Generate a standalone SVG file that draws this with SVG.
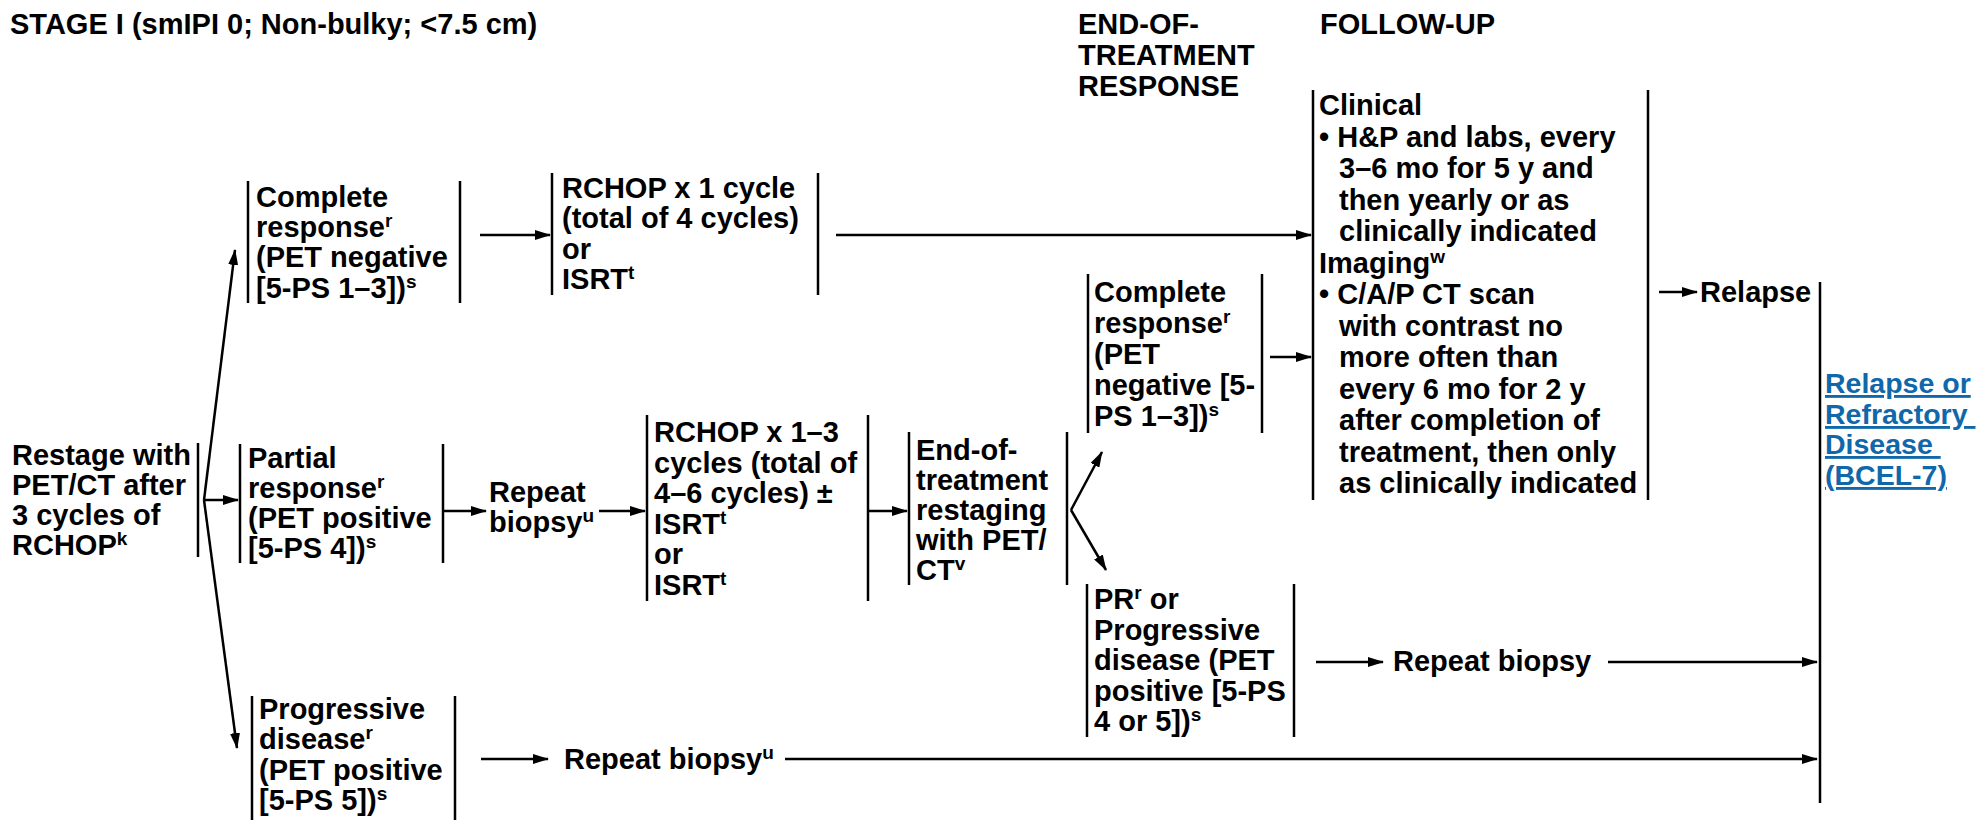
<svg xmlns="http://www.w3.org/2000/svg" width="1980" height="820" viewBox="0 0 1980 820">
<style>
text { font-family: "Liberation Sans", Arial, Helvetica, sans-serif; font-weight: bold; font-size: 29px; fill: #000; }
.sup { font-size: 19px; }
.bar { stroke: #000; stroke-width: 2.5; fill: none; }
.conn line, .conn path { stroke: #000; stroke-width: 2.5; fill: none; }
.arr { marker-end: url(#ah); }
.link { fill: #1067aa; font-size: 28.5px; text-decoration: underline; white-space: pre; }
</style>
<defs>
<marker id="ah" viewBox="0 0 16 10" markerWidth="16" markerHeight="10" refX="15" refY="5" orient="auto" markerUnits="userSpaceOnUse">
<path d="M0,0 L16,5 L0,10 z" fill="#000"/>
</marker>
</defs>
<rect width="1980" height="820" fill="#fff"/>

<g id="headers">
<text x="10" y="34">STAGE I (smIPI 0; Non-bulky; &lt;7.5 cm)</text>
<text x="1078" y="34">END-OF-</text>
<text x="1078" y="65">TREATMENT</text>
<text x="1078" y="96">RESPONSE</text>
<text x="1320" y="34">FOLLOW-UP</text>
</g>

<g id="n-restage">
<text x="12" y="465">Restage with</text>
<text x="12" y="495">PET/CT after</text>
<text x="12" y="525">3 cycles of</text>
<text x="12" y="555">RCHOP<tspan class="sup" dy="-10">k</tspan></text>
<line class="bar" x1="198" y1="443" x2="198" y2="557"/>
</g>

<g id="n-cr1">
<line class="bar" x1="248" y1="181" x2="248" y2="303"/>
<line class="bar" x1="460" y1="181" x2="460" y2="303"/>
<text x="256" y="207">Complete</text>
<text x="256" y="237">response<tspan class="sup" dy="-10">r</tspan></text>
<text x="256" y="267">(PET negative</text>
<text x="256" y="298">[5-PS 1–3])<tspan class="sup" dy="-10">s</tspan></text>
</g>

<g id="n-rchop1">
<line class="bar" x1="552" y1="173" x2="552" y2="295"/>
<line class="bar" x1="818" y1="173" x2="818" y2="295"/>
<text x="562" y="198">RCHOP x 1 cycle</text>
<text x="562" y="228">(total of 4 cycles)</text>
<text x="562" y="259">or</text>
<text x="562" y="289">ISRT<tspan class="sup" dy="-10">t</tspan></text>
</g>

<g id="n-pr1">
<line class="bar" x1="240" y1="444" x2="240" y2="563"/>
<line class="bar" x1="443" y1="444" x2="443" y2="563"/>
<text x="248" y="468">Partial</text>
<text x="248" y="498">response<tspan class="sup" dy="-10">r</tspan></text>
<text x="248" y="528">(PET positive</text>
<text x="248" y="558">[5-PS 4])<tspan class="sup" dy="-10">s</tspan></text>
</g>

<g id="n-biopsy1">
<text x="489" y="502">Repeat</text>
<text x="489" y="532">biopsy<tspan class="sup" dy="-10">u</tspan></text>
</g>

<g id="n-rchop13">
<line class="bar" x1="647" y1="415" x2="647" y2="601"/>
<line class="bar" x1="868" y1="415" x2="868" y2="601"/>
<text x="654" y="442">RCHOP x 1–3</text>
<text x="654" y="473">cycles (total of</text>
<text x="654" y="503">4–6 cycles) ±</text>
<text x="654" y="534">ISRT<tspan class="sup" dy="-10">t</tspan></text>
<text x="654" y="564">or</text>
<text x="654" y="595">ISRT<tspan class="sup" dy="-10">t</tspan></text>
</g>

<g id="n-eot">
<line class="bar" x1="909" y1="432" x2="909" y2="585"/>
<line class="bar" x1="1067" y1="432" x2="1067" y2="585"/>
<text x="916" y="460">End-of-</text>
<text x="916" y="490">treatment</text>
<text x="916" y="520">restaging</text>
<text x="916" y="550">with PET/</text>
<text x="916" y="580">CT<tspan class="sup" dy="-10">v</tspan></text>
</g>

<g id="n-cr2">
<line class="bar" x1="1088" y1="274" x2="1088" y2="433"/>
<line class="bar" x1="1262" y1="274" x2="1262" y2="433"/>
<text x="1094" y="302">Complete</text>
<text x="1094" y="333">response<tspan class="sup" dy="-10">r</tspan></text>
<text x="1094" y="364">(PET</text>
<text x="1094" y="395">negative [5-</text>
<text x="1094" y="426">PS 1–3])<tspan class="sup" dy="-10">s</tspan></text>
</g>

<g id="n-prpd2">
<line class="bar" x1="1087" y1="584" x2="1087" y2="737"/>
<line class="bar" x1="1294" y1="584" x2="1294" y2="737"/>
<text x="1094" y="609">PR<tspan class="sup" dy="-10">r</tspan><tspan dy="10"> or</tspan></text>
<text x="1094" y="640">Progressive</text>
<text x="1094" y="670">disease (PET</text>
<text x="1094" y="701">positive [5-PS</text>
<text x="1094" y="731">4 or 5])<tspan class="sup" dy="-10">s</tspan></text>
</g>

<g id="n-biopsy2">
<text x="1393" y="671">Repeat biopsy</text>
</g>

<g id="n-pd1">
<line class="bar" x1="252" y1="696" x2="252" y2="820"/>
<line class="bar" x1="455" y1="696" x2="455" y2="820"/>
<text x="259" y="719">Progressive</text>
<text x="259" y="749">disease<tspan class="sup" dy="-10">r</tspan></text>
<text x="259" y="780">(PET positive</text>
<text x="259" y="810">[5-PS 5])<tspan class="sup" dy="-10">s</tspan></text>
</g>

<g id="n-biopsy3">
<text x="564" y="769">Repeat biopsy<tspan class="sup" dy="-10">u</tspan></text>
</g>

<g id="n-followup">
<line class="bar" x1="1313" y1="90" x2="1313" y2="500"/>
<line class="bar" x1="1648" y1="90" x2="1648" y2="500"/>
<text x="1319" y="115">Clinical</text>
<text x="1319" y="146.5">• H&amp;P and labs, every</text>
<text x="1339" y="178">3–6 mo for 5 y and</text>
<text x="1339" y="209.5">then yearly or as</text>
<text x="1339" y="241">clinically indicated</text>
<text x="1319" y="272.5">Imaging<tspan class="sup" dy="-10">w</tspan></text>
<text x="1319" y="304">• C/A/P CT scan</text>
<text x="1339" y="335.5">with contrast no</text>
<text x="1339" y="367">more often than</text>
<text x="1339" y="398.5">every 6 mo for 2 y</text>
<text x="1339" y="430">after completion of</text>
<text x="1339" y="461.5">treatment, then only</text>
<text x="1339" y="493">as clinically indicated</text>
</g>

<g id="n-relapse">
<text x="1700" y="302">Relapse</text>
</g>

<g id="n-final">
<line class="bar" x1="1820" y1="282" x2="1820" y2="803"/>
<text class="link" x="1825" y="393">Relapse or</text>
<text class="link" x="1825" y="424" xml:space="preserve">Refractory </text>
<text class="link" x="1825" y="454" xml:space="preserve">Disease </text>
<text class="link" x="1825" y="485">(BCEL-7)</text>
</g>

<g id="connectors" class="conn">
<line class="arr" x1="204" y1="500" x2="235" y2="250"/>
<line class="arr" x1="204" y1="500" x2="238" y2="500"/>
<line class="arr" x1="204" y1="500" x2="237" y2="748"/>
<line class="arr" x1="480" y1="235" x2="550" y2="235"/>
<line class="arr" x1="836" y1="235" x2="1311" y2="235"/>
<line class="arr" x1="444" y1="511" x2="486" y2="511"/>
<line class="arr" x1="599" y1="511" x2="645" y2="511"/>
<line class="arr" x1="869" y1="511" x2="907" y2="511"/>
<line class="arr" x1="1071" y1="510" x2="1102" y2="452"/>
<line class="arr" x1="1071" y1="510" x2="1106" y2="570"/>
<line class="arr" x1="1270" y1="357" x2="1311" y2="357"/>
<line class="arr" x1="1659" y1="292" x2="1697" y2="292"/>
<line class="arr" x1="1316" y1="662" x2="1383" y2="662"/>
<line class="arr" x1="1608" y1="662" x2="1817" y2="662"/>
<line class="arr" x1="481" y1="759" x2="548" y2="759"/>
<line class="arr" x1="785" y1="759" x2="1817" y2="759"/>
</g>
</svg>
